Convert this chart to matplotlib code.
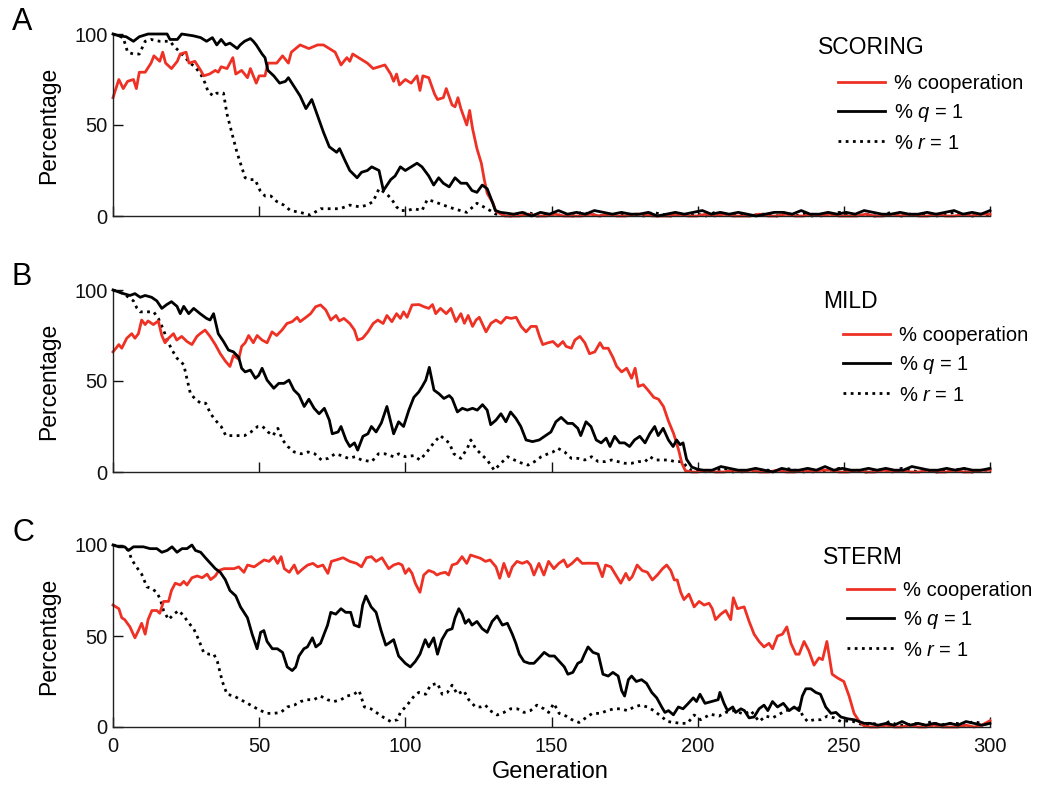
import numpy as np
import matplotlib
matplotlib.use("Agg")
import matplotlib.pyplot as plt
from matplotlib.lines import Line2D

plt.rcParams['font.family'] = ['Liberation Sans', 'DejaVu Sans']
plt.rcParams['mathtext.fontset'] = 'custom'
plt.rcParams['mathtext.it'] = 'Liberation Sans:italic'
plt.rcParams['mathtext.rm'] = 'Liberation Sans'

# ---------------- Panel A: SCORING ----------------
A_coop_x = [0, 2, 3.5, 5, 7, 8, 9, 11, 13, 14, 16, 17, 18, 20, 22, 23, 25, 26, 28, 30, 31, 33, 35, 36, 37, 39, 41, 42, 44, 46, 47, 49, 50, 52, 53, 56, 58, 60, 61, 64, 67, 70, 72, 74, 76, 78, 80, 81, 82, 85, 87, 89, 91, 93, 95, 96, 97, 98, 100, 102, 104, 105, 106, 108, 110, 111, 113, 114, 116, 117, 118, 119, 121, 122, 123, 124.5, 126, 127, 128, 130, 131, 134]
A_coop_y = [65, 75, 70, 74, 75, 70, 79, 79, 84, 88, 85, 90, 84, 81, 85, 89, 90, 84, 85, 80, 77, 78, 80, 79, 82, 81, 87, 78, 80, 76, 81, 73, 77, 77, 84, 84, 88, 84, 90, 94, 92, 94, 94, 92, 90, 83, 87, 85, 89, 86, 84, 81, 82, 83, 78, 74, 78, 72, 75, 73, 77, 69, 77, 76, 67, 64, 65, 70, 61, 60, 65, 59, 50, 58, 48, 37, 29, 20, 12.5, 7, 2.5, 0]
A_coop_tail_start = 136
A_coop_tail = [0, 0, 1, 0, 0, 1, 0, 0, 0, 1, 0, 1, 0, 0, 1, 1, 0, 0, 0, 1, 0, 0, 1, 0, 1, 0, 0, 0, 1, 0, 0, 1, 0, 0, 1, 0, 1, 0, 0, 0, 1, 0, 0, 1, 0, 1, 0, 0, 1, 0, 0, 1, 0, 1, 1]

A_q_x = [0, 2, 4.5, 7, 9, 12, 18.5, 19.5, 22, 23.5, 27.5, 30, 32, 34, 35.5, 37, 38.5, 40, 42.5, 43.5, 45, 47, 48, 49, 51, 52, 53, 55, 57, 59, 60, 62, 64, 66, 68, 70, 72, 74, 76.5, 77.5, 79.5, 81, 83.5, 85, 87, 88.5, 91, 92.5, 95, 96.5, 98.3, 100, 102, 104, 105.7, 108, 109.7, 111.4, 113, 115, 117, 119, 121, 122.8, 124.5, 126.3, 128, 129.7, 130.8, 132.6, 135]
A_q_y = [100, 99, 98.5, 96, 98.5, 100, 100, 97, 97, 100, 99, 98, 96, 98, 94, 97, 94, 95, 92, 94, 96, 97.5, 96, 94, 89, 87, 80, 77, 73, 74, 76, 71, 66, 59, 64, 55, 46, 38, 35, 37, 30, 25, 21, 24, 25, 27, 25, 14, 20, 22, 27, 25, 27, 29, 27, 22, 17, 21, 18, 16, 21, 18, 18, 14, 13, 17, 15, 8, 3, 2, 1.5]
A_q_tail_start = 137
A_q_tail = [1, 2, 0, 2, 1, 3, 1, 2, 1, 3, 2, 1, 2, 1, 1, 2, 0, 1, 2, 1, 2, 3, 1, 2, 1, 2, 1, 0, 1, 2, 2, 1, 3, 1, 1, 2, 1, 2, 1, 3, 2, 1, 1, 2, 1, 1, 2, 1, 2, 3, 1, 2, 1, 3]

A_r_x = [0, 3.5, 5, 7, 9, 11, 13, 16, 19.5, 21, 23, 24.7, 26.4, 28, 30, 31.5, 32.6, 34.4, 35.5, 37.8, 39, 40.6, 42.4, 44, 45.2, 47, 48.6, 50.3, 52, 54, 56, 58.4, 60.7, 64, 67.5, 71, 74, 77.7, 81, 84.5, 87, 89, 91, 92.8, 95, 97, 98.3, 100.6, 103, 105.7, 107.5, 109.7, 113, 116.6, 121, 124.5, 126.8, 129, 131]
A_r_y = [100, 98, 90, 89, 89, 96, 97, 96, 96, 93, 90, 87, 84, 82, 78, 73, 68, 66, 67.5, 67.5, 56, 46, 35, 27, 21, 20, 20, 14, 11, 11, 8, 6, 3, 2, 0.5, 4, 4, 4, 6, 5, 6, 8, 15, 13, 10, 5, 3, 3, 4, 3, 9, 8, 6, 4, 2, 7, 5, 3, 1]
A_r_tail_start = 133
A_r_tail = [1, 0, 1, 2, 0, 1, 0, 1, 0, 2, 1, 0, 1, 0, 1, 1, 0, 2, 1, 0, 1, 0, 1, 0, 2, 1, 0, 1, 0, 1, 1, 0, 2, 0, 1, 0, 1, 0, 2, 1, 0, 1, 0, 1, 2, 0, 1, 0, 1, 0, 1, 2, 1, 0, 1, 0]

# ---------------- Panel B: MILD ----------------
B_coop_x = [0, 2, 3, 4.7, 6.4, 7.5, 8.7, 9.8, 11, 12, 13.8, 15.5, 16.7, 17.8, 19, 20.7, 21.8, 23.5, 25.3, 27, 28.7, 29.8, 31.5, 33.2, 35, 36.7, 38.4, 40, 41.2, 43, 44, 45.2, 46.4, 48, 49.3, 51, 52.7, 54.4, 56, 57.8, 59.5, 61.3, 63, 64, 66, 67.6, 69.3, 71, 72.8, 74.5, 76.3, 77.4, 79, 81, 82.6, 83.7, 85.4, 87.2, 89, 90.6, 92.4, 93.7, 95.4, 97, 98.3, 99.4, 100.6, 102.3, 104.7, 106.4, 108, 109.3, 110.4, 112, 114, 115.6, 117.3, 119, 120.2, 121.5, 123, 124.2, 125.3, 127.6, 129.3, 131, 132.7, 134.5, 136.2, 137.9, 139.6, 141.3, 143, 144.8, 145.9, 147, 148.8, 150.5, 152.2, 153.9, 155, 156.8, 158, 159.7, 161.4, 163, 164.8, 166.6, 167.7, 169.4, 171, 172.3, 174, 175.7, 177.4, 178.6, 179.7, 181.4, 183, 185, 186.6, 188.3, 190, 191.8, 193.5, 194.6, 195.8, 198]
B_coop_y = [66, 70, 68, 73.5, 76, 73.5, 76, 83.5, 81, 83, 81, 83, 75, 71, 73.5, 76, 72.5, 74.5, 71.7, 70, 74.5, 76, 78, 74.5, 70, 65, 61, 58, 64, 62, 69, 71, 75, 71, 75, 72.5, 71, 77, 75, 78, 81.6, 82.6, 85, 82.6, 85, 87, 90.8, 91.8, 89, 83.5, 86, 83, 84.4, 81.6, 78, 72.5, 73.5, 77, 81.6, 83.5, 81.6, 86, 82.6, 87, 84.4, 88, 85, 91.8, 92, 90.8, 89.9, 92, 87, 89.9, 87, 89.9, 82.6, 87, 81.7, 86, 80, 83.5, 85, 77, 81.7, 83.5, 81.7, 85, 84.4, 85, 80, 77, 80, 80, 74.5, 70, 71, 71.7, 69, 71.7, 69, 68, 72.5, 74.5, 71, 65, 66, 71, 68, 68, 63, 58, 55, 57, 51.5, 57, 47, 48, 45, 41, 40, 36, 28, 21, 12, 4.8, 0.7, 0]
B_coop_tail_start = 200
B_coop_tail = [0, 1, 0, 0, 1, 0, 1, 0, 0, 1, 0, 0, 1, 0, 1, 1, 0, 0, 1, 0, 0, 1, 0, 1, 0, 0, 1, 0, 0, 1, 0, 0, 1, 1]

B_q_x = [0, 3.6, 5.8, 7.5, 9.3, 11, 13.2, 15, 16.7, 18.4, 20, 21.9, 23, 24.2, 25.9, 27.6, 29.8, 32, 33.2, 34.4, 36, 37.8, 39.5, 41.2, 43, 44, 45.2, 47, 48.7, 49.8, 51, 52.7, 55, 56.7, 58.5, 60.2, 61.9, 63.6, 65.4, 67, 68.8, 70.5, 72.3, 74, 75, 77, 78, 79.7, 81, 82.6, 83.7, 85.5, 87.2, 88.4, 90, 91.8, 93.7, 96, 97.7, 99.4, 101.2, 102.9, 104.6, 105.7, 107, 108.2, 109.8, 111.5, 113.2, 115, 116, 117.8, 119.5, 121.2, 123, 124.6, 126.4, 128, 129.2, 131, 132.7, 134.4, 136, 137.8, 139.5, 141.3, 143.5, 145.8, 148, 149.8, 151.5, 153.3, 155.5, 157.2, 159, 160, 161.8, 163.5, 165.3, 167, 168.7, 170, 171.6, 173.3, 175, 176.7, 178.4, 180.2, 182, 183.6, 185.3, 186.5, 188.2, 190, 191.6, 192.8, 194, 195, 196.2, 198, 200]
B_q_y = [100, 98, 97, 98, 96, 97, 96, 94, 89.9, 92, 93.6, 91, 87, 91, 87, 89.9, 87, 84.4, 83.5, 87, 76, 71.7, 67, 66, 63, 57, 55, 56, 51.5, 53, 57, 50.5, 46, 48.7, 48.7, 50.5, 45, 42.3, 36, 40, 35, 32, 35, 28.5, 21, 22, 25, 17.6, 14, 16, 12, 19.6, 21, 25, 22, 27, 36, 21, 27.6, 25, 34, 41, 44, 46.8, 50.5, 57.5, 45, 43, 40.4, 42, 40.4, 33, 35, 34, 35, 34, 37, 34, 26, 28.5, 32, 27.6, 33, 29.5, 25, 17.6, 16.7, 17.6, 20, 22, 27.6, 30, 26.7, 26.7, 24, 20, 27.6, 25, 17.6, 16, 18.6, 14, 19.6, 16, 16, 14, 17.6, 19.6, 16, 21, 25, 20, 24, 17.6, 14, 17.6, 15, 16, 7, 2.7, 1.5]
B_q_tail_start = 202
B_q_tail = [1, 1, 3, 2, 1, 1, 2, 1, 0, 2, 1, 1, 2, 1, 3, 1, 2, 1, 1, 2, 1, 2, 1, 1, 3, 2, 1, 1, 2, 1, 2, 1, 1, 2]

B_r_x = [0, 3.6, 5.3, 7, 8.2, 9.3, 11.6, 13.9, 15.5, 17.3, 18.5, 20.2, 21.9, 24.2, 25.4, 26.5, 28.2, 30, 31.7, 33.4, 35, 37, 38.6, 41.5, 45, 47.2, 49.5, 51.2, 53, 54.7, 56.4, 58, 59.8, 62, 64.4, 66.7, 69, 71.3, 73.6, 76, 78.2, 80.5, 82.8, 85, 88.5, 90.8, 93, 96, 97.7, 100, 102.9, 105, 107.4, 109.7, 112, 113.7, 115, 116.6, 119, 121.2, 122.4, 124, 125.8, 128, 130.4, 132.7, 135, 137.3, 139.6, 142, 144.2, 146.5, 148.8, 150.5, 152.2, 154.5, 156.8, 159, 161.4, 163.7, 166, 168.3, 170.5, 172.8, 175, 177.4, 179.7, 182, 183.7, 185.4, 187.7, 190, 192.3, 194.6, 196.3, 198]
B_r_y = [100, 98, 96, 94, 90, 88, 88, 88, 84.4, 78, 72.5, 67, 62.5, 59, 50.5, 43, 40, 37.8, 37.8, 32, 28.5, 25, 20, 20, 20, 22, 25, 25, 22, 20, 24, 17.6, 14, 11, 10, 11, 10, 6.6, 7.5, 10, 9, 7.5, 8.4, 6.6, 5.7, 10, 10, 8.4, 10, 8.4, 9, 6.6, 11, 16, 20, 17.6, 16, 10, 7.5, 13, 17.6, 13, 10, 6.6, 1, 4.8, 8.4, 6.6, 5, 3.8, 5.7, 8.4, 10, 11, 13, 11, 7.5, 7.5, 6.6, 8.4, 5.7, 5.7, 6.6, 5.7, 4.8, 4.8, 5.7, 5.7, 8.4, 6.6, 6.6, 6.6, 5.7, 5.7, 3, 0.7]
B_r_tail_start = 200
B_r_tail = [1, 0, 1, 2, 0, 1, 0, 1, 1, 0, 2, 1, 0, 1, 0, 1, 2, 0, 1, 0, 1, 1, 0, 2, 1, 0, 1, 0, 1, 1, 2, 0, 1, 1]

# ---------------- Panel C: STERM ----------------
C_coop_x = [0, 2, 3, 4, 5.8, 7.5, 8.7, 9.8, 11, 12, 13.3, 15, 16, 17.3, 19, 20, 21.3, 23, 24.2, 25.3, 27, 28.8, 30.5, 32.2, 33.4, 35, 36.2, 38, 39.7, 41.4, 43, 44.8, 46, 48.3, 50, 51.7, 53.4, 55, 56.3, 57.5, 58.6, 60.3, 62, 63.2, 65, 66.6, 68.4, 70, 71.8, 73.5, 74.7, 76.4, 78.7, 81, 83.3, 85, 86.7, 88.4, 90, 92, 94.3, 96, 97.7, 98.9, 100, 101.2, 102.3, 103.4, 105, 106.3, 108, 109.7, 110.8, 112, 113.7, 114.8, 116, 117.7, 119.4, 121, 122.3, 124, 125.7, 127.4, 129, 131, 132.3, 133.7, 135.4, 136.6, 138.2, 140, 141.7, 142.8, 144, 145.7, 147.4, 149, 150.8, 152.5, 154.2, 155.4, 157, 158.8, 160.5, 162.8, 165.7, 167.4, 168.5, 170.3, 172, 173.7, 175.4, 176.6, 177.6, 179.3, 181, 182.8, 184.5, 186.2, 188, 189.4, 190.8, 192, 193, 194.2, 195.3, 197, 198.8, 200.5, 202.2, 203.9, 205, 206.1, 207.9, 209.6, 211.3, 212.2, 213.6, 215.9, 217.6, 219.3, 221, 222.7, 224.4, 225.6, 227.3, 229, 230.5, 231.9, 233.6, 234.7, 236.4, 238, 239.8, 241.5, 242.7, 244.2, 246, 247.8, 250, 251.8, 253.5, 255.3, 257]
C_coop_y = [67, 65, 60, 59, 55, 49, 53, 57, 51, 59, 64, 64, 62.5, 69, 69, 75, 79, 78, 80, 78, 82, 83, 82, 84, 81, 83, 86, 87, 87, 87, 88, 85, 89, 88, 89.9, 91.8, 91, 93.6, 89.9, 93.6, 87, 85, 89, 84.4, 87, 89, 89.9, 88, 89, 84.4, 91, 91.8, 93, 91, 89.9, 88, 93, 93.6, 91, 93, 87, 89, 89.9, 89, 84.4, 87, 84.4, 79, 74, 83.5, 86, 85, 83.5, 84.4, 85, 83.5, 89, 89.9, 93.6, 89.9, 94.5, 93.6, 92.7, 91, 91.8, 88, 81.7, 89.9, 82.6, 88, 91, 89.9, 91, 89, 83.5, 89.9, 83.5, 91, 87, 89.9, 91.8, 88, 89.9, 92.7, 89.9, 90, 89.9, 82.6, 89, 88, 83.5, 79, 84.4, 80.8, 82.6, 89, 86, 85, 80.8, 83.5, 87, 89, 86, 80.8, 80.8, 74, 70, 73, 66, 69, 67, 68, 65, 59, 62, 64, 59, 71, 65, 66, 58, 51, 47, 44, 46, 43, 50, 51, 55, 46, 40, 40, 47, 42, 34, 38, 37, 47, 29, 27, 25, 17, 7.5, 3, 0.5]
C_coop_tail_start = 259
C_coop_tail = [0, 0, 1, 0, 0, 1, 0, 0, 1, 0, 0, 0, 1, 0, 1, 3.5]

C_q_x = [0, 2, 4, 5.3, 7, 10.4, 12.7, 15, 16.7, 18.5, 20.2, 21.9, 23.6, 25.3, 27, 28.2, 30, 31.6, 33.3, 35, 36.7, 38.4, 40, 42, 43.6, 46, 47.6, 49.3, 50.5, 51.6, 52.7, 54.5, 56.2, 58, 59.6, 61.3, 62.5, 63.6, 65.3, 66.5, 68.2, 69.4, 71, 73.4, 74.5, 76.2, 78, 79.6, 81.3, 82.5, 84.2, 85.4, 86.5, 88.3, 90, 91.7, 93.3, 94.3, 96, 97.7, 100, 101.7, 103.4, 105, 106.8, 108, 109.7, 111, 112.5, 114.3, 116, 117, 118.3, 119.4, 120.5, 121.7, 122.8, 124.5, 126.3, 128, 129.7, 131.4, 133.2, 134.9, 136.6, 137.8, 139, 140.6, 142.4, 144, 145.8, 147.5, 149.3, 151, 152.7, 154.4, 155.6, 157.3, 159, 160.2, 161.3, 162.5, 164.2, 166, 167.6, 169.4, 171, 172.8, 174, 175, 176.3, 177.4, 179, 180.8, 182.5, 184.3, 186, 187.7, 188.8, 190, 191.7, 193.4, 195, 196.8, 198.5, 199.6, 200.8, 202.5, 204.8, 207, 207.6, 209, 210.2, 212, 213, 214.8, 216, 217.6, 219.3, 221, 222.7, 224, 225.6, 227.3, 229.3, 231.3, 233, 234.7, 235.8, 237, 238.7, 240.4, 242, 243.8, 245.6, 247.3, 249, 251.3, 253.5, 255.3, 257]
C_q_y = [100, 99, 99, 97, 99, 99, 98, 98, 96, 97, 99, 96, 98, 98, 100, 97, 96, 93, 90, 87, 85, 81, 75, 72, 66, 60, 51, 43, 52, 53, 47, 43, 43, 41, 33, 31, 33, 39, 43, 44, 49, 44, 46, 56, 63, 62, 65, 63, 63, 56, 55, 67, 72, 66, 63, 53, 45, 46, 48, 39, 35, 33, 36, 40, 48, 44, 49, 40, 48, 53, 54, 60, 65, 62, 57, 59, 56, 58, 54, 52, 58, 61, 56, 57, 51, 46, 40, 36, 35, 35, 38, 41, 39, 39, 36, 33, 29, 30, 35, 36, 40, 44, 41, 40, 29, 28, 30, 28, 20, 17, 26, 28, 25, 26, 24, 19, 16, 11, 8, 9, 6.7, 11, 10, 13, 16, 14, 18, 13, 14, 15, 19, 13, 9, 11, 8, 10, 9, 5, 5.5, 10, 12, 9, 14, 11, 13, 9, 11, 9, 17, 21, 21, 19, 18, 11, 7.5, 8, 5.5, 4.5, 4, 3, 2]
C_q_tail_start = 259
C_q_tail = [2, 1, 2, 1, 3, 1, 2, 1, 2, 1, 2, 1, 3, 2, 1, 2]

C_r_x = [0, 3.6, 5.3, 6.4, 8, 9.8, 11.6, 13.3, 15, 16.2, 17.3, 19, 20.8, 22.5, 24.2, 26, 27.6, 29.3, 31, 32.8, 34.5, 35.7, 37.4, 39, 41.4, 43.7, 46, 48.2, 50.5, 52.8, 55, 57.4, 59.6, 62, 64.2, 66.4, 68.7, 71, 73.3, 75.6, 78, 80, 82.4, 84.2, 86, 88.2, 90.5, 92.8, 95, 97.3, 98.3, 100.6, 103, 104.6, 107, 108.6, 111, 112.6, 114.4, 116, 117.8, 120, 121.7, 124, 125.7, 127.4, 129, 131.4, 133.7, 136, 138.3, 140.6, 142.8, 145, 147.4, 149, 150.8, 152.6, 155, 157, 159.4, 161.7, 164, 166.8, 169, 171.4, 173.7, 176, 178.2, 180.5, 182.8, 185, 187.4, 189.7, 192, 194.2, 196.5, 198.8, 201, 204.4, 207.3, 209.6, 212.4, 215.9, 218.2, 221, 223.3, 225.6, 227.9, 230.2, 232.5, 234.2, 236, 237.6, 239.8, 242, 244.4, 246.7, 249, 252.4, 255]
C_r_y = [100, 99, 97, 92, 88, 84, 77, 76, 74, 70, 64, 59, 62, 64, 61, 57, 54, 48, 41, 40, 40, 36, 25, 18, 17, 15, 13, 11, 9, 7.5, 7.5, 8, 11, 12, 14, 15, 15, 17, 15, 14, 15, 17, 18, 20, 11, 10, 7.5, 5, 3, 4, 8, 12, 17, 19, 18, 23, 24, 18, 19, 23, 18, 20, 15, 11, 11, 12, 9, 6.6, 8, 10, 10, 8, 9, 12, 10, 8, 13, 7.5, 6, 4, 2.5, 5, 7.5, 7.5, 9, 10, 10, 9, 11, 12, 11, 9, 6, 3, 2.5, 2, 2, 6.6, 4, 7, 6, 8, 9, 7, 9, 3, 6, 5, 7, 9, 10, 12, 6, 3, 4, 4, 6, 5, 3, 3.5, 2]
C_r_tail_start = 257
C_r_tail = [1, 2, 1, 3, 1, 1, 2, 1, 3, 1, 2, 2, 1, 3, 2, 1]

panel_letters = ['A', 'B', 'C']
panel_titles = ['SCORING', 'MILD', 'STERM']
legend_labels = ['% cooperation', r'% $q$ = 1', r'% $r$ = 1']
x_ticks = [0, 50, 100, 150, 200, 250, 300]
y_ticks = [0, 50, 100]

RED = '#ee3124'


def full_series(x, y, tail_start, tail):
    tx = np.linspace(tail_start, 300, len(tail))
    return np.concatenate([np.asarray(x, float), tx]), np.concatenate([np.asarray(y, float), np.asarray(tail, float)])


panels = [
    ((A_coop_x, A_coop_y, A_coop_tail_start, A_coop_tail),
     (A_q_x, A_q_y, A_q_tail_start, A_q_tail),
     (A_r_x, A_r_y, A_r_tail_start, A_r_tail)),
    ((B_coop_x, B_coop_y, B_coop_tail_start, B_coop_tail),
     (B_q_x, B_q_y, B_q_tail_start, B_q_tail),
     (B_r_x, B_r_y, B_r_tail_start, B_r_tail)),
    ((C_coop_x, C_coop_y, C_coop_tail_start, C_coop_tail),
     (C_q_x, C_q_y, C_q_tail_start, C_q_tail),
     (C_r_x, C_r_y, C_r_tail_start, C_r_tail)),
]

W, H = 1039, 799
fig = plt.figure(figsize=(W / 100, H / 100), dpi=100)

ax_left, ax_right = 113, 990
tops = [34, 290, 545]
bottoms = [216, 472, 727]
letter_y = [22, 277, 533]
title_pos = [(818, 48), (823, 302), (823, 557)]
legend_pos = [(838, 74), (843, 326), (847, 581)]

for i in range(3):
    t, b = tops[i], bottoms[i]
    ax = fig.add_axes([ax_left / W, 1 - b / H, (ax_right - ax_left) / W, (b - t) / H])
    (cx, cy, cts, ct), (qx, qy, qts, qt), (rx, ry, rts, rt) = panels[i]
    X, Y = full_series(rx, ry, rts, rt)
    ax.plot(X, Y, color='black', lw=2.0, linestyle=(0, (1, 1.6)), clip_on=False, zorder=2)
    X, Y = full_series(qx, qy, qts, qt)
    ax.plot(X, Y, color='black', lw=2.0, clip_on=False, zorder=3)
    X, Y = full_series(cx, cy, cts, ct)
    ax.plot(X, Y, color=RED, lw=2.0, clip_on=False, zorder=2.5)

    ax.set_xlim(0, 300)
    ax.set_ylim(0, 100)
    ax.set_xticks(x_ticks)
    ax.set_yticks(y_ticks)
    for s in ['top', 'right']:
        ax.spines[s].set_visible(False)
    for s in ['left', 'bottom']:
        ax.spines[s].set_linewidth(1.0)
        ax.spines[s].set_color('#222222')
    ax.tick_params(axis='both', direction='in', length=7, width=1.0, labelsize=14.5, colors='#111111')
    ax.tick_params(axis='y', pad=4)
    ax.tick_params(axis='x', pad=7)
    if i < 2:
        ax.set_xticklabels([])
    ax.set_ylabel('Percentage', fontsize=16.5)
    ax.yaxis.set_label_coords((60 - ax_left) / (ax_right - ax_left), 0.5)

    # legend
    handles = [Line2D([], [], color=RED, lw=2.0),
               Line2D([], [], color='black', lw=2.0),
               Line2D([], [], color='black', lw=2.0, linestyle=(0, (1, 1.6)))]
    lx, ly = legend_pos[i]
    ax.legend(handles, legend_labels, loc='upper left',
              bbox_to_anchor=((lx - ax_left) / (ax_right - ax_left), (b - ly) / (b - t)),
              frameon=False, fontsize=14.5, borderpad=0, borderaxespad=0,
              handlelength=2.35, handletextpad=0.45, labelspacing=0.46)
    tx, ty = title_pos[i]
    fig.text(tx / W, 1 - ty / H, panel_titles[i], fontsize=16.5, ha='left', va='center')
    fig.text(12 / W, 1 - letter_y[i] / H, panel_letters[i], fontsize=22, ha='left', va='center')

fig.text(550 / W, 1 - 772 / H, 'Generation', fontsize=17, ha='center', va='center')

fig.savefig('out.png', dpi=100)
